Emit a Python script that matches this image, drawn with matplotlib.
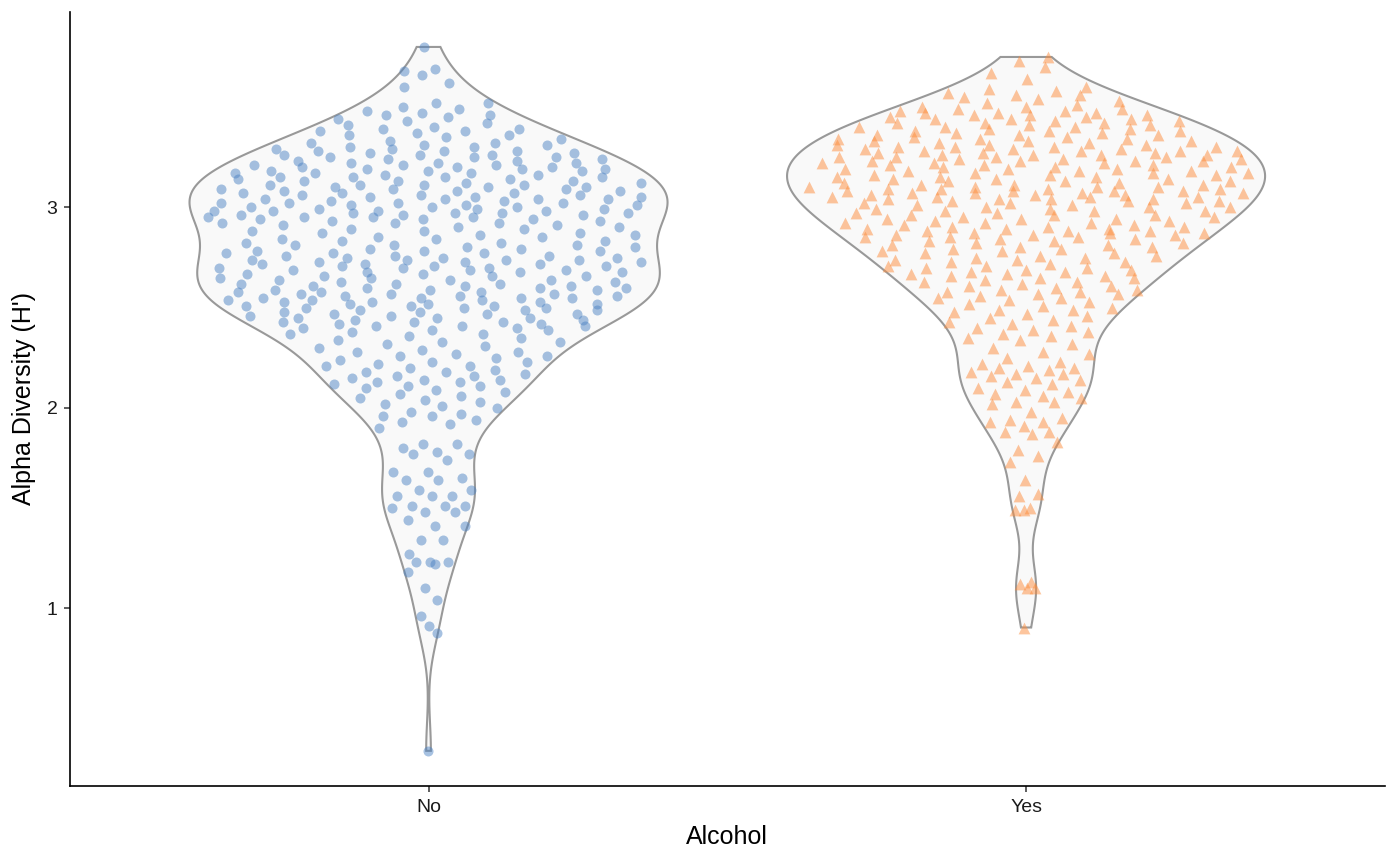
import numpy as np
import matplotlib
matplotlib.use("Agg")
import matplotlib.pyplot as plt

plt.rcParams['font.family'] = ['Liberation Sans', 'DejaVu Sans']

categories = ["No", "Yes"]

alpha_no = [
    3.80, 3.69, 3.66, 3.68, 3.62, 3.60, 3.52, 3.52, 3.49, 3.46, 3.46, 3.48, 3.44,
    3.50, 3.47, 3.45, 3.43, 3.38, 3.36,
    3.42, 3.41, 3.40, 3.39, 3.39, 3.38, 3.37, 3.36, 3.35, 3.34,
    3.33, 3.32, 3.32, 3.31, 3.31, 3.30, 3.29, 3.29, 3.28, 3.28, 3.27, 3.27, 3.26, 3.26,
    3.25, 3.25, 3.24, 3.24, 3.23,
    3.30, 3.28, 3.26, 3.25, 3.22, 3.20, 3.19, 3.17, 3.15, 3.13,
    3.23, 3.22, 3.22, 3.21, 3.21, 3.21, 3.20, 3.20, 3.19, 3.19, 3.18, 3.18, 3.18, 3.17,
    3.17, 3.16, 3.16, 3.15, 3.15, 3.15, 3.14, 3.14, 3.13, 3.13,
    3.12, 3.12, 3.11, 3.11, 3.11, 3.10, 3.10, 3.09, 3.09, 3.09, 3.08, 3.08, 3.07, 3.07,
    3.07, 3.06, 3.06, 3.05, 3.05, 3.05, 3.04, 3.04, 3.04, 3.03, 3.03,
    3.11, 3.10, 3.08, 3.06, 3.04, 3.02, 3.00, 2.98, 2.97, 2.95,
    3.02, 3.02, 3.02, 3.01, 3.01, 3.01, 3.00, 3.00, 2.99, 2.99, 2.99, 2.98, 2.98, 2.98,
    2.97, 2.97, 2.97, 2.96, 2.96, 2.96, 2.95, 2.95, 2.95, 2.94, 2.94, 2.94, 2.93,
    2.93, 2.92, 2.92, 2.92, 2.91, 2.91, 2.90, 2.90, 2.89, 2.89, 2.88, 2.88, 2.87, 2.87,
    2.86, 2.86, 2.85, 2.85, 2.84, 2.84,
    2.83, 2.83, 2.82, 2.82, 2.81, 2.81, 2.81, 2.80, 2.80, 2.79, 2.79,
    2.78, 2.78, 2.78, 2.77, 2.77, 2.77, 2.76, 2.76, 2.76, 2.75, 2.75, 2.75, 2.74, 2.74,
    2.74, 2.73, 2.73, 2.73, 2.72, 2.72, 2.72, 2.71, 2.71, 2.71, 2.70, 2.70, 2.70, 2.69,
    2.69, 2.69, 2.74,
    2.68, 2.68, 2.68, 2.67, 2.67, 2.66, 2.66, 2.66, 2.65, 2.65, 2.64, 2.64, 2.64, 2.63,
    2.63, 2.62, 2.62, 2.62, 2.61, 2.61, 2.61, 2.60, 2.60, 2.60, 2.59, 2.59, 2.59,
    2.58, 2.58, 2.58, 2.57, 2.57, 2.57, 2.56, 2.56, 2.56, 2.55, 2.55, 2.55, 2.54, 2.54,
    2.54, 2.53, 2.53, 2.53, 2.52, 2.52, 2.52, 2.51, 2.51, 2.51, 2.50, 2.50, 2.50, 2.49,
    2.49, 2.49, 2.55,
    2.48, 2.48, 2.47, 2.47, 2.47, 2.46, 2.46, 2.45, 2.45, 2.45, 2.44, 2.44, 2.43, 2.43,
    2.43, 2.42, 2.42, 2.41, 2.41, 2.41, 2.40, 2.40, 2.39, 2.39,
    2.38, 2.37, 2.37, 2.36, 2.35, 2.34, 2.33, 2.33, 2.32, 2.31, 2.30, 2.29,
    2.28, 2.28, 2.27, 2.26, 2.26, 2.25, 2.24, 2.23, 2.23, 2.22, 2.21, 2.21, 2.20, 2.19,
    2.18, 2.18, 2.17, 2.16, 2.16, 2.15, 2.14, 2.14, 2.13, 2.13, 2.12, 2.11, 2.11, 2.10, 2.09,
    2.08, 2.07, 2.06, 2.05, 2.04, 2.03, 2.02, 2.01, 2.00,
    1.98, 1.97, 1.96, 1.96, 1.94, 1.93, 1.92, 1.90,
    1.82, 1.77, 1.80, 1.78, 1.77, 1.82, 1.74, 1.68, 1.68, 1.65, 1.64, 1.64, 1.59, 1.59,
    1.56, 1.56, 1.56, 1.51, 1.51, 1.51, 1.50, 1.48, 1.48, 1.44, 1.41, 1.41, 1.34, 1.34,
    1.27, 1.23, 1.23, 1.23, 1.22, 1.18, 1.10, 1.04, 0.96, 0.91, 0.88, 0.29,
]

alpha_yes = [
    3.75, 3.73, 3.70, 3.67, 3.64,
    3.60, 3.59, 3.58, 3.57, 3.56, 3.56, 3.55, 3.54, 3.53, 3.52, 3.51,
    3.50, 3.50, 3.49, 3.49, 3.48, 3.48, 3.47, 3.47, 3.46, 3.46, 3.46, 3.45, 3.45, 3.44,
    3.44, 3.44, 3.43, 3.43, 3.42, 3.42, 3.42, 3.41, 3.41, 3.47,
    3.40, 3.40, 3.40, 3.39, 3.39, 3.38, 3.38, 3.38, 3.37, 3.37, 3.36, 3.36, 3.36, 3.35,
    3.35, 3.34, 3.34, 3.34, 3.33, 3.33, 3.33, 3.32, 3.32, 3.31, 3.31, 3.31,
    3.30, 3.30, 3.30, 3.30, 3.29, 3.29, 3.29, 3.28, 3.28, 3.28, 3.28, 3.27, 3.27, 3.27,
    3.26, 3.26, 3.26, 3.25, 3.25, 3.25, 3.25, 3.24, 3.24, 3.24, 3.23, 3.23, 3.23, 3.23,
    3.22, 3.22, 3.22, 3.21, 3.21, 3.21, 3.26,
    3.20, 3.20, 3.20, 3.19, 3.19, 3.19, 3.18, 3.18, 3.18, 3.17, 3.17, 3.17, 3.16, 3.16,
    3.16, 3.15, 3.15, 3.15, 3.14, 3.14, 3.14, 3.13, 3.13, 3.13, 3.12, 3.12, 3.11,
    3.11, 3.11, 3.10, 3.10, 3.10, 3.10, 3.09, 3.09, 3.09, 3.09, 3.08, 3.08, 3.08, 3.08,
    3.07, 3.07, 3.07, 3.07, 3.06, 3.06, 3.06, 3.05, 3.05, 3.05, 3.05, 3.04, 3.04, 3.04,
    3.04, 3.03, 3.03, 3.03, 3.02, 3.02, 3.02, 3.01, 3.01,
    3.00, 3.00, 3.00, 2.99, 2.99, 2.98, 2.98, 2.98, 2.97, 2.97, 2.96, 2.96, 2.96, 2.95,
    2.95, 2.94, 2.94, 2.94, 2.93, 2.93, 2.92, 2.92, 2.92, 2.91, 2.91,
    2.90, 2.90, 2.90, 2.89, 2.89, 2.89, 2.88, 2.88, 2.88, 2.87, 2.87, 2.87, 2.86, 2.86,
    2.86, 2.85, 2.85, 2.85, 2.84, 2.84,
    2.83, 2.83, 2.82, 2.82, 2.81, 2.81, 2.80, 2.80, 2.79, 2.79, 2.78, 2.78, 2.77, 2.77,
    2.76, 2.76, 2.75, 2.75, 2.74, 2.74,
    2.73, 2.73, 2.72, 2.71, 2.71, 2.70, 2.70, 2.69, 2.69, 2.68, 2.68, 2.67, 2.67, 2.66,
    2.66, 2.65, 2.65, 2.64,
    2.63, 2.63, 2.62, 2.61, 2.61, 2.60, 2.59, 2.59, 2.58, 2.58, 2.57, 2.57, 2.56, 2.55,
    2.55, 2.54,
    2.53, 2.52, 2.51, 2.50, 2.49, 2.49, 2.48, 2.47, 2.46, 2.45, 2.44,
    2.43, 2.42, 2.41, 2.40, 2.39, 2.38, 2.37, 2.36, 2.35, 2.34,
    2.32, 2.30, 2.28, 2.27, 2.25,
    2.23, 2.22, 2.21, 2.20, 2.20, 2.19, 2.18, 2.17, 2.17, 2.16, 2.15, 2.14,
    2.13, 2.12, 2.10, 2.09, 2.08, 2.07, 2.06, 2.05,
    2.03, 2.03, 2.02, 1.98, 1.95, 1.93, 1.93, 1.91, 1.94, 1.88, 1.88, 1.87, 1.83, 1.79,
    1.76, 1.73, 1.64, 1.57, 1.56, 1.50, 1.49, 1.49, 1.12, 1.13, 1.10, 1.10, 0.905,
]

groups = [alpha_no, alpha_yes]
point_colors = ["#4E84C4", "#FD8D3C"]
markers = ["o", "^"]
sizes = [52, 72]


def kde(values, grid):
    # gaussian kde, bandwidth like R's bw.nrd0
    v = np.asarray(values)
    n = len(v)
    iqr = np.subtract(*np.percentile(v, [75, 25]))
    bw = 0.9 * min(v.std(ddof=1), iqr / 1.34) * n ** -0.2
    z = (grid[:, None] - v[None, :]) / bw
    return np.exp(-0.5 * z ** 2).sum(axis=1) / (n * bw * np.sqrt(2 * np.pi))


fig = plt.figure(figsize=(14, 8.65), dpi=100)
ax = fig.add_axes([0.05, 0.0913, 0.939, 0.895])

half = 0.4
for i, vals in enumerate(groups):
    pos = i + 1
    v = np.sort(np.asarray(vals))
    grid = np.linspace(v.min(), v.max(), 512)
    dens = kde(v, grid)
    w = dens / dens.max() * half
    xs = np.concatenate([pos - w, (pos + w)[::-1], [pos - w[0]]])
    ys = np.concatenate([grid, grid[::-1], [grid[0]]])
    ax.fill(xs, ys, facecolor="#F9F9F9", edgecolor="#999999", linewidth=1.5, zorder=1)

    # sina-style spread inside the violin (deterministic jitter)
    idx = np.arange(len(v))
    h = (np.sin(idx * 12.9898 + i * 78.233) * 43758.5453) % 1.0
    u = 2 * ((idx * 0.6180339887 + 0.3 + 0.05 * h) % 1.0) - 1
    wp = np.interp(v, grid, w) * 0.94
    ax.scatter(pos + u * wp, v, s=sizes[i], marker=markers[i], color=point_colors[i],
               alpha=0.5, linewidths=0, zorder=2)

ax.set_xlim(0.4, 2.6)
ax.set_ylim(0.1145, 3.975)
ax.set_xticks([1, 2])
ax.set_xticklabels(categories)
ax.set_yticks([1, 2, 3])
ax.set_xlabel("Alcohol", fontsize=18, labelpad=7)
ax.set_ylabel("Alpha Diversity (H')", fontsize=18, labelpad=8)
ax.tick_params(labelsize=14, length=4, width=1.1, pad=5, color="#333333", labelcolor="#1a1a1a")
for side in ["top", "right"]:
    ax.spines[side].set_visible(False)
for side in ["left", "bottom"]:
    ax.spines[side].set_linewidth(1.2)

fig.savefig("out.png", dpi=100)
